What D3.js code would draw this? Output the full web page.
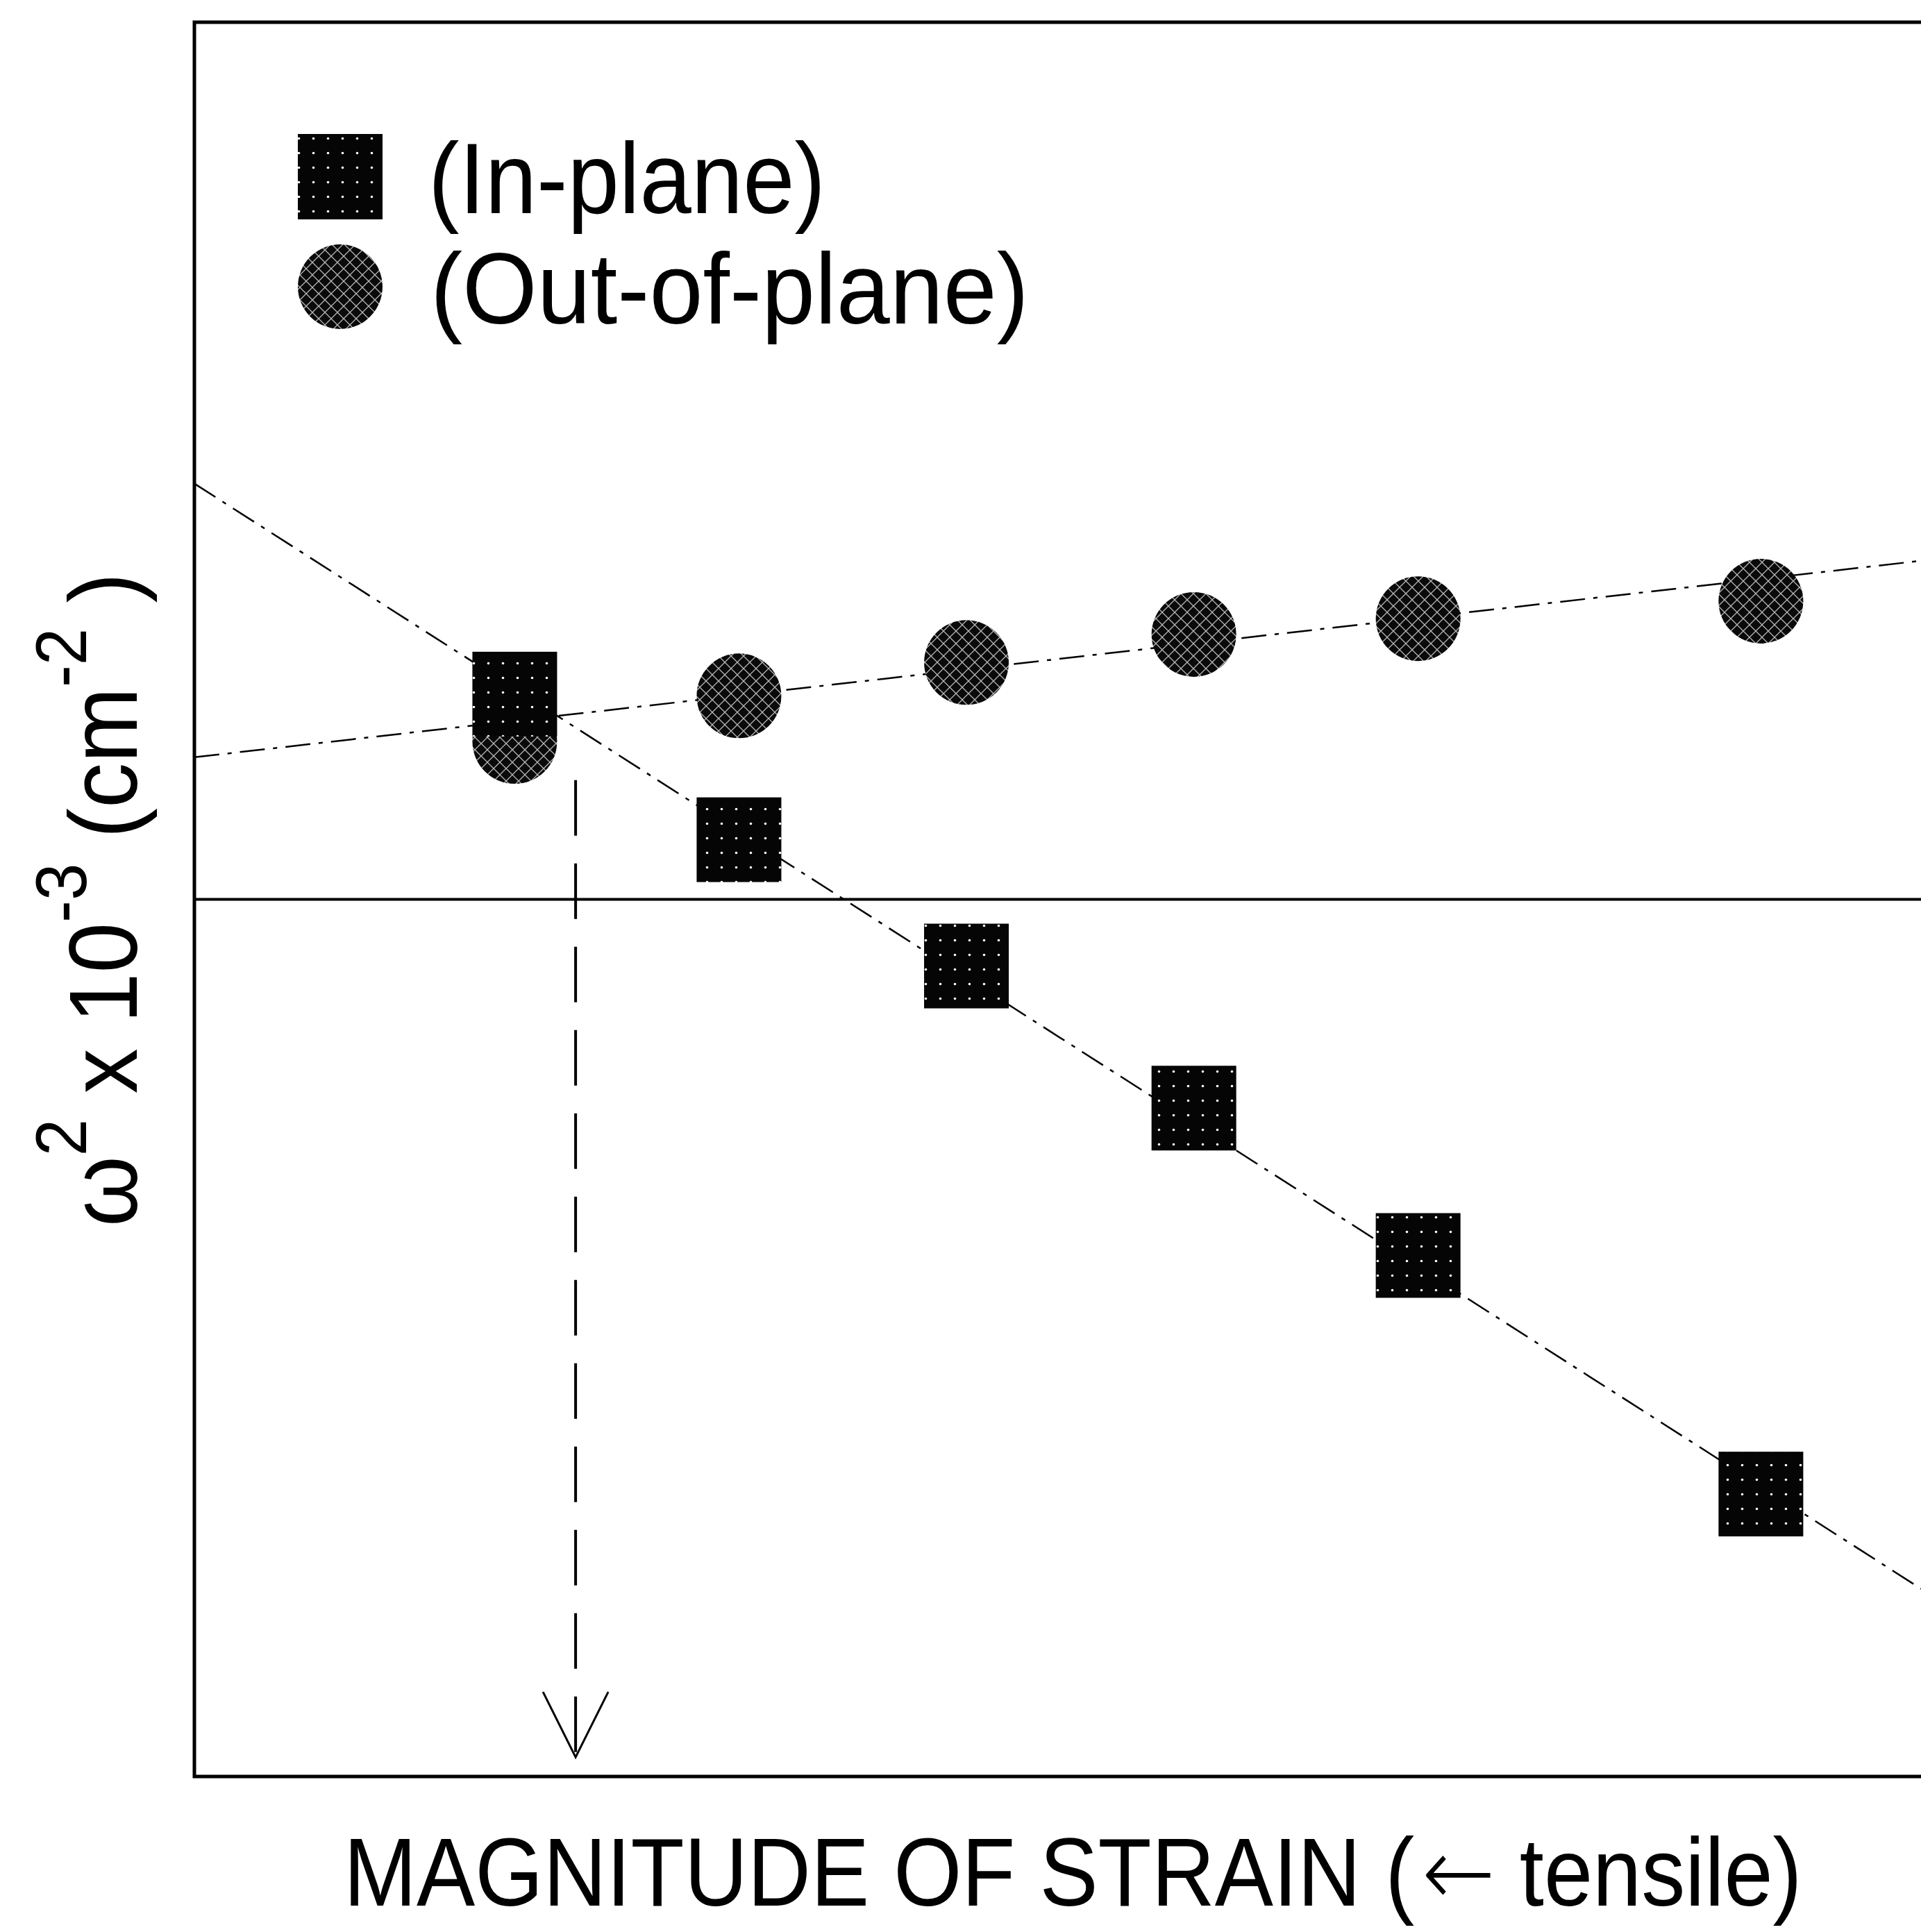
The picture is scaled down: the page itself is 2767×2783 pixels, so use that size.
<!DOCTYPE html>
<html>
<head>
<meta charset="utf-8">
<script src="https://cdn.jsdelivr.net/npm/d3@7"></script>
<style>
  body { margin: 0; background: #fff; }
  text { font-family: "Liberation Sans", Arial, sans-serif; fill: #000; }
</style>
</head>
<body>
<div id="chart"></div>
<script>
// strain magnitude (arbitrary units) and w^2 values
const strain = [1.0, 1.7, 2.41, 3.12, 3.82, 4.89];
const inPlane = [1.17, 0.34, -0.38, -1.19, -2.03, -3.39];
const outPlane = [0.90, 1.16, 1.35, 1.51, 1.60, 1.70];

// fitted lines, [strain, value] end points
const inFit = [[0, 2.37], [5.39, -3.93]];
const outFit = [[0, 0.81], [5.39, 1.93]];

// dashed arrow dropped from the crossing of the two fits
const crossX = 1.19;
const crossTop = 0.68;
const crossTip = -4.89;

const seriesNames = ["(In-plane)", "(Out-of-plane)"];
const xTitle = ["MAGNITUDE OF STRAIN (", "\u2190", " tensile)"];

const W = 2767, H = 2783;
const margin = { top: 32, left: 280, bottom: 224 };

const x = d3.scaleLinear().domain([0, 5.6]).range([margin.left, 2864]);
const y = d3.scaleLinear().domain([-5, 5]).range([H - margin.bottom, margin.top]);

const svg = d3.select("#chart").append("svg")
    .attr("width", W)
    .attr("height", H);

svg.append("rect").attr("width", W).attr("height", H).attr("fill", "#fff");

// halftone fills like the scanned markers
const defs = svg.append("defs");
const pSq = defs.append("pattern").attr("id", "sqfill")
    .attr("patternUnits", "userSpaceOnUse").attr("width", 21).attr("height", 21);
pSq.append("rect").attr("width", 21).attr("height", 21).attr("fill", "#050505");
pSq.append("circle").attr("cx", 10.5).attr("cy", 10.5).attr("r", 1.8).attr("fill", "#fff");

const pCi = defs.append("pattern").attr("id", "cifill")
    .attr("patternUnits", "userSpaceOnUse").attr("width", 18).attr("height", 18);
pCi.append("rect").attr("width", 18).attr("height", 18).attr("fill", "#0a0a0a");
pCi.append("path").attr("d", "M0,0L18,18M18,0L0,18")
    .attr("stroke", "#fff").attr("stroke-width", 1.3).attr("stroke-opacity", 0.7);

// frame (right side runs off the page)
svg.append("rect")
    .attr("x", x(0)).attr("y", y(5))
    .attr("width", x(5.6) - x(0)).attr("height", y(-5) - y(5))
    .attr("fill", "none").attr("stroke", "#000").attr("stroke-width", 5);

// zero line
svg.append("line")
    .attr("x1", x(0)).attr("x2", x(5.6))
    .attr("y1", y(0)).attr("y2", y(0))
    .attr("stroke", "#000").attr("stroke-width", 4);

// fit lines, dash-dot
const line = d3.line().x(d => x(d[0])).y(d => y(d[1]));
svg.selectAll(".fit")
    .data([inFit, outFit])
    .enter().append("path")
    .attr("class", "fit")
    .attr("d", line)
    .attr("fill", "none")
    .attr("stroke", "#000")
    .attr("stroke-width", 2.5)
    .attr("stroke-dasharray", "36,12,6,12");

// vertical dashed arrow
svg.append("line")
    .attr("x1", x(crossX)).attr("x2", x(crossX))
    .attr("y1", y(crossTop)).attr("y2", y(crossTip) - 4)
    .attr("stroke", "#000").attr("stroke-width", 4)
    .attr("stroke-dasharray", "80,40");
svg.append("path")
    .attr("d", "M" + (x(crossX) - 47) + "," + (y(crossTip) - 94) +
               "L" + x(crossX) + "," + y(crossTip) +
               "L" + (x(crossX) + 47) + "," + (y(crossTip) - 94))
    .attr("fill", "none").attr("stroke", "#000").attr("stroke-width", 3);

// markers
const r = 61;
svg.append("g").selectAll("circle")
    .data(d3.zip(strain, outPlane))
    .enter().append("circle")
    .attr("cx", d => x(d[0]))
    .attr("cy", d => y(d[1]))
    .attr("r", r)
    .attr("fill", "url(#cifill)");

svg.append("g").selectAll("rect")
    .data(d3.zip(strain, inPlane))
    .enter().append("rect")
    .attr("x", d => x(d[0]) - r)
    .attr("y", d => y(d[1]) - r)
    .attr("width", 2 * r)
    .attr("height", 2 * r)
    .attr("fill", "url(#sqfill)");

// legend
const legend = svg.append("g").attr("class", "legend");
legend.append("rect")
    .attr("x", 429).attr("y", 193).attr("width", 122).attr("height", 123)
    .attr("fill", "url(#sqfill)");
legend.append("circle")
    .attr("cx", 490).attr("cy", 413).attr("r", 61)
    .attr("fill", "url(#cifill)");

function fitText(sel, tx, ty, target, rot) {
    const w = sel.node().getComputedTextLength();
    sel.attr("transform", "translate(" + tx + "," + ty + ")" +
        (rot ? " rotate(" + rot + ")" : "") + " scale(" + (target / w) + ",1)");
}

const legendPos = [[617, 307, 572], [620, 466, 862]];
seriesNames.forEach(function (name, i) {
    const t = legend.append("text")
        .attr("font-size", 145)
        .text(name);
    fitText(t, legendPos[i][0], legendPos[i][1], legendPos[i][2]);
});

// x title, arrow glyph taken from DejaVu (light) for a full-width thin arrow
const xt = svg.append("text").attr("font-size", 140);
xt.append("tspan").text(xTitle[0]);
xt.append("tspan").attr("font-family", "DejaVu Sans").attr("font-weight", 200)
    .attr("dx", 12).text(xTitle[1]);
xt.append("tspan").text(xTitle[2]);
fitText(xt, 495, 2745, 2090);

// y title with superscripts
const yt = svg.append("text").attr("font-size", 140);
yt.append("tspan").text("\u03c9");
yt.append("tspan").attr("font-size", 103).attr("dy", -73).text("2");
yt.append("tspan").attr("dy", 73).text(" x 10");
yt.append("tspan").attr("font-size", 103).attr("dy", -73).text("-3");
yt.append("tspan").attr("dy", 73).text(" (cm");
yt.append("tspan").attr("font-size", 103).attr("dy", -73).text("-2");
yt.append("tspan").attr("dy", 73).text(" )");
fitText(yt, 197, 1767, 942, -90);
</script>
</body>
</html>
